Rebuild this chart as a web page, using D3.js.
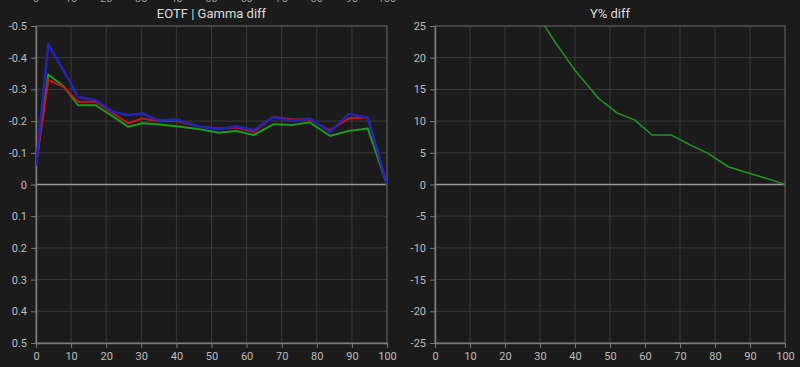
<!DOCTYPE html>
<html>
<head>
<meta charset="utf-8">
<script src="https://cdn.jsdelivr.net/npm/d3@7"></script>
<style>
  html, body { margin: 0; padding: 0; background: #1b1b1b; }
  svg { display: block; }
  text { font-family: Roboto, "Noto Sans", sans-serif; }
</style>
</head>
<body>
<div id="chart"></div>
<script>
// stimulus levels (% input)
var gamma_x = [0, 3.5, 7.8, 12, 17, 22, 26.3, 30.3, 34.5, 40, 46.7, 52, 57, 62, 67.6, 73, 78, 83.8, 89, 94.5, 100];
var gamma_red = [-0.06, -0.33, -0.308, -0.261, -0.261, -0.224, -0.193, -0.208, -0.2, -0.2, -0.182, -0.177, -0.18, -0.166, -0.214, -0.205, -0.205, -0.171, -0.208, -0.212, 0];
var gamma_green = [-0.06, -0.347, -0.31, -0.25, -0.25, -0.214, -0.182, -0.193, -0.19, -0.184, -0.174, -0.163, -0.169, -0.156, -0.19, -0.188, -0.196, -0.153, -0.169, -0.177, 0];
var gamma_blue = [-0.06, -0.443, -0.36, -0.276, -0.266, -0.229, -0.219, -0.224, -0.203, -0.205, -0.182, -0.174, -0.184, -0.171, -0.212, -0.201, -0.208, -0.166, -0.222, -0.212, 0];

var ydiff_x = [30.3, 34.5, 40, 46.7, 52, 57, 62, 67.6, 73, 78, 83.8, 89, 94.5, 100];
var ydiff_y = [25.9, 22.3, 18.0, 13.6, 11.3, 10.2, 7.8, 7.8, 6.2, 4.9, 2.8, 1.9, 1.0, 0];

var x_ticks = [0, 10, 20, 30, 40, 50, 60, 70, 80, 90, 100];
var gamma_ticks = [-0.5, -0.4, -0.3, -0.2, -0.1, 0, 0.1, 0.2, 0.3, 0.4, 0.5];
var ydiff_ticks = [25, 20, 15, 10, 5, 0, -5, -10, -15, -20, -25];

var width = 800, height = 367;

var svg = d3.select('#chart').append('svg')
    .attr('width', width)
    .attr('height', height);

svg.append('rect')
    .attr('width', width)
    .attr('height', height)
    .attr('fill', '#1b1b1b');

var fmt_gamma = function(d) { return d === 0 ? '0' : d.toFixed(1).replace('−', '-'); };
var fmt_int = function(d) { return String(d); };

var panel = function(opts) {
    var x = d3.scaleLinear().domain([0, 100]).range([opts.left, opts.right]);
    var y = d3.scaleLinear().domain(opts.ydomain).range([26, 343]);
    var g = svg.append('g');

    var clip_id = 'clip' + opts.id;
    svg.append('clipPath').attr('id', clip_id)
	.append('rect')
	.attr('x', x(0)).attr('y', y.range()[0])
	.attr('width', x(100) - x(0)).attr('height', y.range()[1] - y.range()[0]);

    // grid
    g.append('g').selectAll('line').data(x_ticks).enter().append('line')
	.attr('x1', function(d) { return x(d); })
	.attr('x2', function(d) { return x(d); })
	.attr('y1', y.range()[0]).attr('y2', y.range()[1])
	.attr('stroke', '#3a3a3a').attr('stroke-width', 1);
    g.append('g').selectAll('line').data(opts.yticks).enter().append('line')
	.attr('x1', x(0)).attr('x2', x(100))
	.attr('y1', function(d) { return y(d); })
	.attr('y2', function(d) { return y(d); })
	.attr('stroke', '#3a3a3a').attr('stroke-width', 1);

    // frame
    g.append('rect')
	.attr('x', x(0)).attr('y', y.range()[0])
	.attr('width', x(100) - x(0)).attr('height', y.range()[1] - y.range()[0])
	.attr('fill', 'none').attr('stroke', '#5c5c5c').attr('stroke-width', 1);

    // zero line
    g.append('line')
	.attr('x1', x(0)).attr('x2', x(100))
	.attr('y1', y(0)).attr('y2', y(0))
	.attr('stroke', '#9a9a9a').attr('stroke-width', 1.5);

    // axes
    var xa = g.append('g')
	.attr('transform', 'translate(0,' + y.range()[1] + ')')
	.call(d3.axisBottom(x).tickValues(x_ticks).tickFormat(fmt_int)
	      .tickSize(5).tickSizeOuter(0).tickPadding(4));
    var ya = g.append('g')
	.attr('transform', 'translate(' + x(0) + ',0)')
	.call(d3.axisLeft(y).tickValues(opts.yticks).tickFormat(opts.fmt)
	      .tickSize(5).tickSizeOuter(0).tickPadding(4));
    [xa, ya].forEach(function(a) {
	a.select('.domain').attr('stroke', '#7a7a7a').attr('stroke-width', 1.5);
	a.selectAll('.tick line').attr('stroke', '#7a7a7a');
	a.selectAll('.tick text').attr('fill', '#bdbdbd')
	    .attr('font-size', 11);
    });

    // title
    g.append('text')
	.attr('x', (x(0) + x(100)) / 2)
	.attr('y', 18)
	.attr('text-anchor', 'middle')
	.attr('fill', '#dcdcdc')
	.attr('font-size', 13)
	.text(opts.title);

    var line = d3.line()
	.x(function(d) { return x(d[0]); })
	.y(function(d) { return y(d[1]); });

    var lines = g.append('g').attr('clip-path', 'url(#' + clip_id + ')');
    opts.series.forEach(function(s) {
	lines.append('path')
	    .datum(d3.zip(s.x, s.y))
	    .attr('fill', 'none')
	    .attr('stroke', s.color)
	    .attr('stroke-width', s.width)
	    .attr('stroke-linejoin', 'round')
	    .attr('d', line);
    });
    return x;
};

var gx = panel({
    id: 'gamma', left: 36, right: 387,
    ydomain: [-0.5, 0.5], yticks: gamma_ticks, fmt: fmt_gamma,
    title: 'EOTF | Gamma diff',
    series: [
	{x: gamma_x, y: gamma_green, color: '#1e9a1e', width: 2},
	{x: gamma_x, y: gamma_red, color: '#c4141c', width: 2},
	{x: gamma_x, y: gamma_blue, color: '#2424b4', width: 2.5}
    ]
});

panel({
    id: 'ydiff', left: 435, right: 785,
    ydomain: [25, -25], yticks: ydiff_ticks, fmt: fmt_int,
    title: 'Y% diff',
    series: [
	{x: ydiff_x, y: ydiff_y, color: '#1e9a1e', width: 1.5}
    ]
});

// tick labels of the chart above, cut off by the top edge
svg.append('g').selectAll('text').data(x_ticks).enter().append('text')
    .attr('x', function(d) { return gx(d); })
    .attr('y', 2)
    .attr('text-anchor', 'middle')
    .attr('fill', '#9a9a9a')
    .attr('font-size', 11)
    .text(fmt_int);
</script>
</body>
</html>
